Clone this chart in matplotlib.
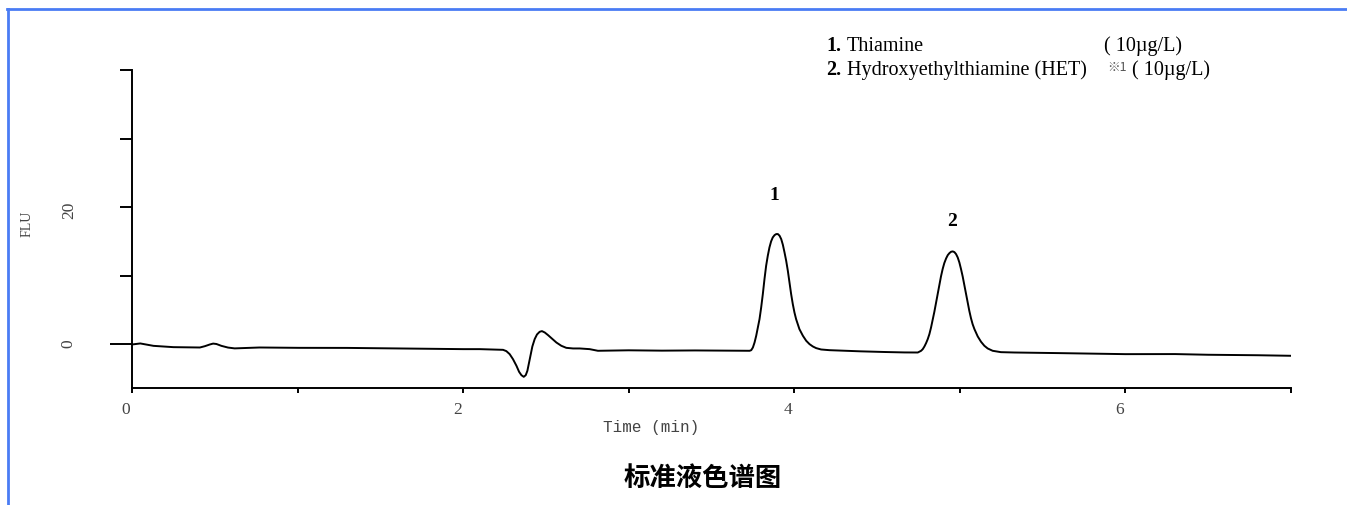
import matplotlib
matplotlib.use("Agg")
import matplotlib.pyplot as plt
from matplotlib.ticker import FixedLocator, FuncFormatter
from matplotlib.lines import Line2D
import matplotlib.transforms as mtransforms

# chromatogram (time in min, signal in FLU)
time_min = [0.00, 0.05, 0.13, 0.25, 0.41, 0.44, 0.47, 0.49, 0.51, 0.54,
            0.58, 0.62, 0.77, 1.01, 1.30, 1.50, 1.75, 2.00, 2.100, 2.241,
            2.261, 2.281, 2.301, 2.322, 2.338, 2.352, 2.366, 2.378, 2.388, 2.398,
            2.408, 2.418, 2.432, 2.446, 2.462, 2.476, 2.493, 2.513, 2.533, 2.563,
            2.593, 2.623, 2.664, 2.704, 2.764, 2.814, 3.00, 3.20, 3.40, 3.609,
            3.730, 3.740, 3.750, 3.760, 3.770, 3.780, 3.790, 3.800, 3.810, 3.820,
            3.830, 3.840, 3.850, 3.860, 3.870, 3.881, 3.891, 3.901, 3.911, 3.921,
            3.931, 3.941, 3.951, 3.961, 3.971, 3.981, 3.991, 4.001, 4.011, 4.031,
            4.052, 4.072, 4.092, 4.112, 4.132, 4.162, 4.212, 4.40, 4.55, 4.665,
            4.746, 4.766, 4.776, 4.786, 4.796, 4.806, 4.816, 4.826, 4.836, 4.846,
            4.856, 4.866, 4.876, 4.886, 4.896, 4.906, 4.917, 4.927, 4.937, 4.947,
            4.957, 4.967, 4.977, 4.987, 4.997, 5.007, 5.017, 5.027, 5.037, 5.047,
            5.057, 5.067, 5.077, 5.088, 5.108, 5.128, 5.148, 5.168, 5.198, 5.248,
            5.329, 5.60, 6.00, 6.30, 6.50, 6.80, 7.00]
signal = [-0.05, 0.10, -0.25, -0.44, -0.49, -0.30, -0.05, 0.08, 0.02, -0.25,
          -0.50, -0.62, -0.49, -0.54, -0.55, -0.60, -0.65, -0.73, -0.73, -0.83,
          -1.02, -1.46, -2.19, -3.16, -4.04, -4.53, -4.77, -4.53, -3.89, -2.68,
          -1.46, -0.34, 0.73, 1.41, 1.80, 1.90, 1.70, 1.31, 0.88, 0.24,
          -0.24, -0.54, -0.63, -0.63, -0.73, -0.97, -0.90, -0.95, -0.92, -0.95,
          -0.97, -0.88, -0.49, 0.24, 1.22, 2.43, 3.65, 5.35, 7.30, 9.49,
          11.44, 12.90, 14.11, 14.99, 15.57, 15.91, 16.06, 16.06, 15.82, 15.33,
          14.50, 13.38, 12.17, 10.71, 9.00, 7.30, 5.84, 4.62, 3.65, 2.19,
          1.22, 0.49, 0.00, -0.34, -0.58, -0.78, -0.88, -1.05, -1.15, -1.21,
          -1.22, -0.97, -0.73, -0.34, 0.15, 0.73, 1.46, 2.43, 3.55, 4.72,
          5.99, 7.30, 8.61, 9.88, 10.95, 11.82, 12.51, 12.99, 13.28, 13.48,
          13.53, 13.43, 13.14, 12.65, 11.92, 10.95, 9.88, 8.61, 7.30, 6.08,
          4.87, 3.80, 2.92, 2.19, 1.12, 0.34, -0.24, -0.63, -0.97, -1.17,
          -1.22, -1.31, -1.46, -1.45, -1.55, -1.62, -1.70]

peak_labels = ["1", "2"]
peak_label_pos = [(3.88, 21.9), (4.95, 18.0)]

compounds = ["Thiamine", "Hydroxyethylthiamine (HET)"]
conc = ["( 10\u00b5g/L)", "( 10\u00b5g/L)"]

serif = "Liberation Serif"
grey = "#444444"

fig = plt.figure(figsize=(13.47, 5.06), dpi=100)
W, H = 1347, 506
ax = fig.add_axes([132 / W, 1 - 389 / H, (1291 - 132) / W, (389 - 71) / H])

ax.plot(time_min, signal, color="black", lw=1.4)
ax.set_xlim(0, 7)
ax.set_ylim(-6.4, 40)

for s in ["top", "right"]:
    ax.spines[s].set_visible(False)
for s in ["left", "bottom"]:
    ax.spines[s].set_linewidth(1.4)

# x axis ticks
ax.xaxis.set_major_locator(FixedLocator(range(0, 8)))
ax.xaxis.set_major_formatter(FuncFormatter(lambda v, p: str(int(v)) if int(v) % 2 == 0 and v < 7 else ""))
ax.tick_params(axis="x", direction="out", length=3.6, width=1.4, pad=6,
               labelsize=12.5, labelcolor=grey)
offset = mtransforms.ScaledTranslation(-6 / 100, 0, fig.dpi_scale_trans)
for lab in ax.get_xticklabels():
    lab.set_transform(lab.get_transform() + offset)
    lab.set_fontfamily(serif)

# y axis ticks
ax.yaxis.set_major_locator(FixedLocator([0]))
ax.yaxis.set_minor_locator(FixedLocator([10, 20, 30, 40]))
ax.yaxis.set_major_formatter(FuncFormatter(lambda v, p: "0"))
ax.yaxis.set_minor_formatter(FuncFormatter(lambda v, p: "20" if v == 20 else ""))
ax.tick_params(axis="y", which="major", direction="out", length=16, width=1.4, pad=24,
               labelsize=12.5, labelcolor=grey, labelrotation=90)
ax.tick_params(axis="y", which="minor", direction="out", length=8.6, width=1.4, pad=31,
               labelsize=12.5, labelcolor=grey, labelrotation=90)
for lab in ax.get_yticklabels(which="both"):
    lab.set_fontfamily(serif)

# peak numbers
for lab, (tx, ty) in zip(peak_labels, peak_label_pos):
    ax.text(tx, ty, lab, ha="center", va="center", fontsize=14,
            fontweight="bold", family=serif)

# axis titles
fig.text(651 / W, 1 - 428 / H, "Time (min)", ha="center", va="center",
         fontsize=11.5, family="Liberation Mono", color=grey)
fig.text(27 / W, 1 - 224 / H, "FLU", ha="center", va="center", rotation=90,
         fontsize=10, family=serif, color=grey)

# compound list
rows_y = [51, 75]
for i, (name, c) in enumerate(zip(compounds, conc)):
    yb = 1 - rows_y[i] / H
    fig.text(826 / W, yb, f"{i + 1}.", ha="left", va="baseline", fontsize=14.5,
             fontweight="bold", family=serif)
    fig.text(847 / W, yb, name, ha="left", va="baseline", fontsize=14.5, family=serif)
    cx = 1104 if i == 0 else 1132
    fig.text(cx / W, yb, c, ha="left", va="baseline", fontsize=14.5, family=serif)
fig.text(1107 / W, 1 - 71 / H, "\u203b1", ha="left", va="baseline", fontsize=9,
         family=["Noto Sans CJK SC", serif], color="#555555")

# chart caption
fig.text(703 / W, 1 - 478 / H, "标准液色谱图", ha="center", va="center",
         fontsize=19, fontweight="bold", family=["Noto Sans CJK SC", "DejaVu Sans"])

# blue frame on top and left
blue = "#4a7cf4"
fig.add_artist(Line2D([7 / W, 1], [1 - 10 / H, 1 - 10 / H], color=blue, lw=2,
                      transform=fig.transFigure))
fig.add_artist(Line2D([8 / W, 8 / W], [0, 1 - 10 / H], color=blue, lw=2,
                      transform=fig.transFigure))

fig.savefig("out.png", dpi=100)
